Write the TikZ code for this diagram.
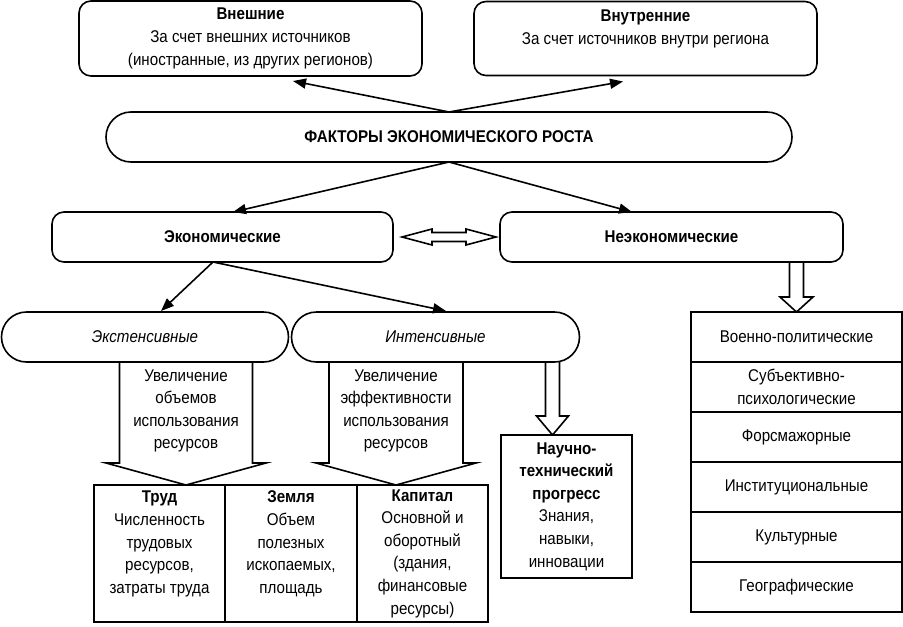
\documentclass[tikz,border=0pt]{standalone}
\usepackage{fontspec}
\setmainfont{Liberation Sans}[FakeStretch=0.89]
\usetikzlibrary{arrows.meta,calc,positioning}

\tikzset{
  every node/.style={font=\fontsize{17}{22.6}\selectfont},
  box/.style={draw,line width=1.6pt,rounded corners=12pt,align=center,inner sep=0pt,outer sep=0pt},
  pill/.style={draw,line width=1.6pt,rounded corners=25pt,minimum height=50pt,inner sep=0pt,outer sep=0pt},
  cell/.style={draw,line width=1.6pt,align=center,inner sep=0pt,outer sep=0pt},
  arr/.style={line width=1.6pt,-{Triangle[length=13pt,width=10pt]}},
  fat/.style={draw,line width=1.6pt,line join=miter}
}

% start, end, half shaft, half head, head length
\newcommand{\fatarrow}[5]{%
  \draw[fat] let \p1=(#1), \p2=(#2) in
    (\x1-#3pt,\y1) -- (\x1-#3pt,\y2+#5pt) -- (\x1-#4pt,\y2+#5pt) -- (\x1,\y2)
    -- (\x1+#4pt,\y2+#5pt) -- (\x1+#3pt,\y2+#5pt) -- (\x1+#3pt,\y1);}
\newcommand{\twoarrow}[5]{%
  \draw[fat] let \p1=(#1), \p2=(#2) in
    (\x1,\y1) -- (\x1+#5pt,\y1+#4pt) -- (\x1+#5pt,\y1+#3pt) -- (\x2-#5pt,\y1+#3pt)
    -- (\x2-#5pt,\y1+#4pt) -- (\x2,\y1) -- (\x2-#5pt,\y1-#4pt) -- (\x2-#5pt,\y1-#3pt)
    -- (\x1+#5pt,\y1-#3pt) -- (\x1+#5pt,\y1-#4pt) -- cycle;}

\begin{document}
\begin{tikzpicture}[x=1pt,y=-1pt]
  \useasboundingbox (0,0) rectangle (903,627);

  \node[box,minimum width=343pt,minimum height=75pt] (vnesh) at (250.5,38.5)
    {\textbf{Внешние}\\За счет внешних источников\\(иностранные, из других регионов)};
  \node[box,minimum width=343pt,minimum height=74pt] (vnutr) at (645.5,38.5)
    {\textbf{Внутренние}\\За счет источников внутри региона\\\mbox{}};
  \node[pill,minimum width=686pt] (factor) at (449,137) {\textbf{ФАКТОРЫ ЭКОНОМИЧЕСКОГО РОСТА}};

  \node[box,minimum width=341pt,minimum height=50pt] (ek) at (222.5,237) {\textbf{Экономические}};
  \node[box,minimum width=343pt,minimum height=50pt] (neek) at (671.5,237) {\textbf{Неэкономические}};

  \node[pill,minimum width=287pt] (ext) at (145,337) {\textit{Экстенсивные}};
  \node[pill,minimum width=288pt] (int) at (435.5,337) {\textit{Интенсивные}};

  \node[align=center] (uvel1) at (186,411) {Увеличение\\объемов\\использования\\ресурсов};
  \node[align=center] (uvel2) at (396,411) {Увеличение\\эффективности\\использования\\ресурсов};

  \node[cell,minimum width=131pt,minimum height=137pt] (trud) at (159.5,553.5)
    {\textbf{Труд}\\Численность\\трудовых\\ресурсов,\\затраты труда\\\mbox{}};
  \node[cell,minimum width=132pt,minimum height=137pt,right=0pt of trud] (zemlya)
    {\textbf{Земля}\\Объем\\полезных\\ископаемых,\\площадь\\\mbox{}};
  \node[cell,minimum width=131pt,minimum height=137pt,right=0pt of zemlya] (kapital)
    {\textbf{Капитал}\\Основной и\\оборотный\\(здания,\\финансовые\\ресурсы)};

  \node[cell,minimum width=131pt,minimum height=143pt] (ntp) at (566.5,506.5)
    {\textbf{Научно-}\\\textbf{технический}\\\textbf{прогресс}\\Знания,\\навыки,\\инновации};

  \node[cell,minimum width=211pt,minimum height=50pt] (voen) at (796.5,337) {Военно-политические};
  \node[cell,minimum width=211pt,minimum height=50pt,below=0pt of voen] (subj) {Субъективно-\\психологические};
  \node[cell,minimum width=211pt,minimum height=50pt,below=0pt of subj] (fors) {Форсмажорные};
  \node[cell,minimum width=211pt,minimum height=50pt,below=0pt of fors] (inst) {Институциональные};
  \node[cell,minimum width=211pt,minimum height=50pt,below=0pt of inst] (kult) {Культурные};
  \node[cell,minimum width=211pt,minimum height=50pt,below=0pt of kult] (geo) {Географические};

  \draw[arr] (factor.north) -- ($(vnesh.south)+(42.5,5)$);
  \draw[arr] (factor.north) -- ($(vnutr.south)+(-22.5,6)$);
  \draw[arr] (factor.south) -- ($(ek.north)+(10.5,0)$);
  \draw[arr] (factor.south) -- ($(neek.north)+(-39.5,0)$);
  \draw[arr] ($(ek.south)+(-9.5,0)$) -- ($(ext.north)+(16,-1)$);
  \draw[arr] ($(ek.south)+(-9.5,0)$) -- ($(int.north)+(10.5,-1)$);

  \twoarrow{$(ek.east)+(9,0)$}{$(neek.west)+(-4,0)$}{4.5}{8}{30}
  \fatarrow{uvel1 |- ext.south}{uvel1 |- trud.north}{66.5}{80}{22}
  \fatarrow{uvel2 |- int.south}{uvel2 |- trud.north}{67}{80}{22}
  \fatarrow{$(ntp.north |- int.south)+(-14,0)$}{$(ntp.north)+(-14,0)$}{7}{16}{19}
  \fatarrow{voen.north |- neek.south}{voen.north}{7}{16.5}{15}
\end{tikzpicture}
\end{document}
